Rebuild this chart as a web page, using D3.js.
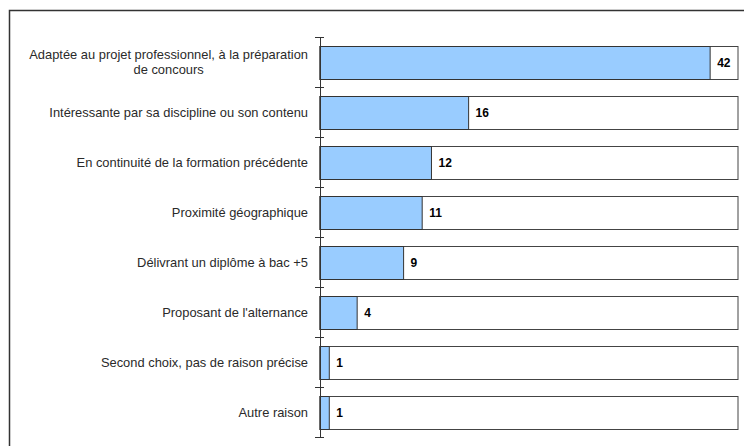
<!DOCTYPE html>
<html><head><meta charset="utf-8">
<script src="https://cdn.jsdelivr.net/npm/d3@7"></script>
<style>body{margin:0;background:#fff}</style>
</head><body>
<svg id="c" width="744" height="446"></svg>
<script>
const categories = [
  ["Adaptée au projet professionnel, à la préparation","de concours"],
  ["Intéressante par sa discipline ou son contenu"],
  ["En continuité de la formation précédente"],
  ["Proximité géographique"],
  ["Délivrant un diplôme à bac +5"],
  ["Proposant de l'alternance"],
  ["Second choix, pas de raison précise"],
  ["Autre raison"]
];
const values = [42, 16, 12, 11, 9, 4, 1, 1];
const maxValue = 45;

const svg = d3.select("#c");
svg.append("rect").attr("x",9.5).attr("y",10.5).attr("width",760).attr("height",460)
  .attr("fill","#fff").attr("stroke","#333").attr("stroke-width",1.5);

const x = d3.scaleLinear().domain([0, maxValue]).range([320, 738]);
const y = d3.scaleBand().domain(d3.range(values.length)).range([37, 437]).paddingInner(0.34).paddingOuter(0.17);
const yb = d3.scaleBand().domain(d3.range(values.length)).range([37, 437]);

const g = svg.append("g");
g.selectAll("rect.bg").data(values).join("rect")
  .attr("x", x(0)).attr("y", (d,i)=>Math.round(y(i))+0.5)
  .attr("width", x(maxValue)-x(0)).attr("height", Math.round(y.bandwidth()))
  .attr("fill","#fff").attr("stroke","#444").attr("stroke-width",1);
g.selectAll("rect.v").data(values).join("rect")
  .attr("x", x(0)).attr("y", (d,i)=>Math.round(y(i))+0.5)
  .attr("width", d=>x(d)-x(0)).attr("height", Math.round(y.bandwidth()))
  .attr("fill","#99ccff").attr("stroke","#333").attr("stroke-width",1);

g.append("line").attr("x1",320.5).attr("x2",320.5).attr("y1",37).attr("y2",437).attr("stroke","#333");
const tickYs = d3.range(values.length).map(i=>yb(i)).concat([437]);
g.selectAll("line.t").data(tickYs).join("line")
  .attr("x1",315).attr("x2",324).attr("y1",d=>Math.round(d)+0.5).attr("y2",d=>Math.round(d)+0.5)
  .attr("stroke","#333");

g.selectAll("text.v").data(values).join("text")
  .attr("x", d=>x(d)+7).attr("y",(d,i)=>y(i)+y.bandwidth()/2+4.5)
  .attr("font-family","Liberation Sans, Arial, sans-serif").attr("font-size",12).attr("font-weight","bold")
  .attr("fill","#000").text(d=>d);

const cat = g.selectAll("text.c").data(categories).join("text")
  .attr("font-family","Liberation Sans, Arial, sans-serif").attr("font-size",12.9).attr("fill","#2a2a2a");
cat.each(function(lines,i){
  const t = d3.select(this);
  const cy = yb(i)+yb.bandwidth()/2;
  const n = lines.length;
  lines.forEach((ln,j)=>{
    t.append("tspan").text(ln).attr("y", cy + (j-(n-1)/2)*15 + 4.5);
  });
  const tsp = t.selectAll("tspan").nodes();
  const wmax = d3.max(tsp.map(n=>n.getComputedTextLength()));
  const center = 308 - wmax/2;
  tsp.forEach(n=>d3.select(n).attr("x", center).attr("text-anchor","middle"));
});
</script>
</body></html>
